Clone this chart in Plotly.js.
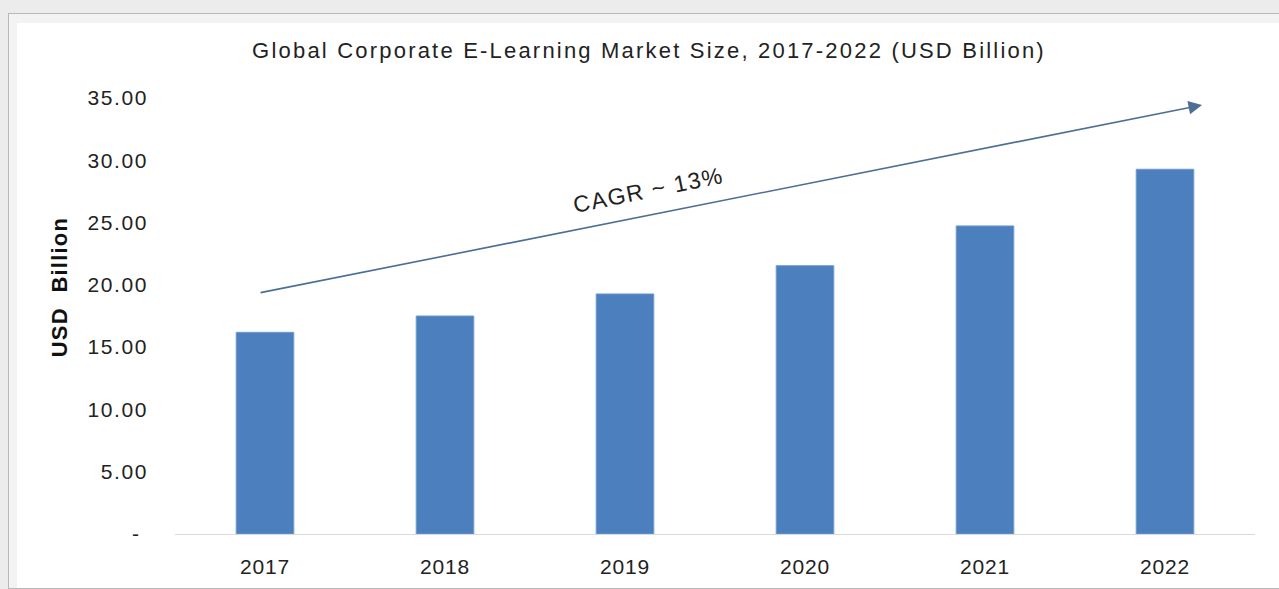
<!DOCTYPE html>
<html>
<head>
<meta charset="utf-8">
<script src="https://cdn.plot.ly/plotly-3.0.1.min.js"></script>
<style>
  html, body { margin: 0; padding: 0; width: 1279px; height: 589px; overflow: hidden; background: #ececec; }
  #frame { position: absolute; left: 8px; top: 13px; width: 1300px; height: 574px; border: 1px solid #b8b8b8; background: #f3f3f3; }
  #chart { position: absolute; left: 17px; top: 23px; width: 1262px; height: 565px; background: #ffffff; }
  #chart .gtitle { letter-spacing: 2.2px; }
  #chart .ytick text { letter-spacing: 1.6px; }
  #chart .xtick text { letter-spacing: 0.8px; }
  #chart .annotation[data-index="1"] text { letter-spacing: 1.4px; }
  #chart .annotation[data-index="2"] text { letter-spacing: 1.2px; }
</style>
</head>
<body>
<div id="frame"></div>
<div id="chart"></div>
<script>
const years = ["2017", "2018", "2019", "2020", "2021", "2022"];
const marketSize = [16.19, 17.50, 19.27, 21.54, 24.73, 29.28];
const yTickValues = [0, 5, 10, 15, 20, 25, 30, 35];
const yTickLabels = ["-\u00a0", "5.00", "10.00", "15.00", "20.00", "25.00", "30.00", "35.00"];
const cagrLabel = "CAGR ~ 13%";
const yTitle = "USD\u00a0\u00a0Billion";
const chartTitle = "Global Corporate E-Learning Market Size, 2017-2022 (USD Billion)";

const trace = {
  type: "bar",
  x: years,
  y: marketSize,
  marker: { color: "#4b7fbd", line: { color: "#6f9bd0", width: 1 } },
  hoverinfo: "x+y"
};

const layout = {
  width: 1262,
  height: 565,
  margin: { l: 158, r: 24, t: 75, b: 54 },
  paper_bgcolor: "#ffffff",
  plot_bgcolor: "#ffffff",
  bargap: 0.68,
  showlegend: false,
  font: { family: "Liberation Sans, Arial, sans-serif", color: "#222222" },
  title: {
    text: chartTitle,
    font: { family: "Liberation Sans, Arial, sans-serif", size: 22, color: "#222222" },
    xref: "container", x: 0.5008, xanchor: "center",
    yref: "container", y: 0.952, yanchor: "middle"
  },
  xaxis: {
    type: "category",
    range: [-0.5, 5.5],
    showline: true,
    linecolor: "#d9d9d9",
    linewidth: 1,
    showgrid: false,
    zeroline: false,
    ticks: "",
    ticklabelstandoff: 14,
    tickfont: { size: 21, color: "#222222" },
    fixedrange: true
  },
  yaxis: {
    range: [0, 35],
    tickvals: yTickValues,
    ticktext: yTickLabels,
    showline: false,
    showgrid: false,
    zeroline: false,
    ticks: "",
    ticklabelstandoff: 26,
    tickfont: { size: 21, color: "#222222" },
    fixedrange: true
  },
  annotations: [
    {
      xref: "x", yref: "y", axref: "x", ayref: "y",
      x: 5.206, y: 34.44,
      ax: -0.033, ay: 19.35,
      text: "",
      showarrow: true,
      arrowhead: 2,
      arrowsize: 1.7,
      arrowwidth: 1.6,
      arrowcolor: "#4d6f96"
    },
    {
      xref: "x", yref: "y",
      x: 2.128, y: 27.6,
      text: cagrLabel,
      showarrow: false,
      textangle: -11.5,
      font: { size: 23, color: "#222222", family: "Liberation Sans, Arial, sans-serif" }
    },
    {
      xref: "paper", yref: "paper",
      x: -0.1074, y: 0.5665,
      xanchor: "center", yanchor: "middle",
      text: "<b>" + yTitle + "</b>",
      showarrow: false,
      textangle: -90,
      font: { size: 22, color: "#111111", family: "Liberation Sans, Arial, sans-serif" }
    }
  ]
};

Plotly.newPlot("chart", [trace], layout, { displayModeBar: false });
</script>
</body>
</html>
